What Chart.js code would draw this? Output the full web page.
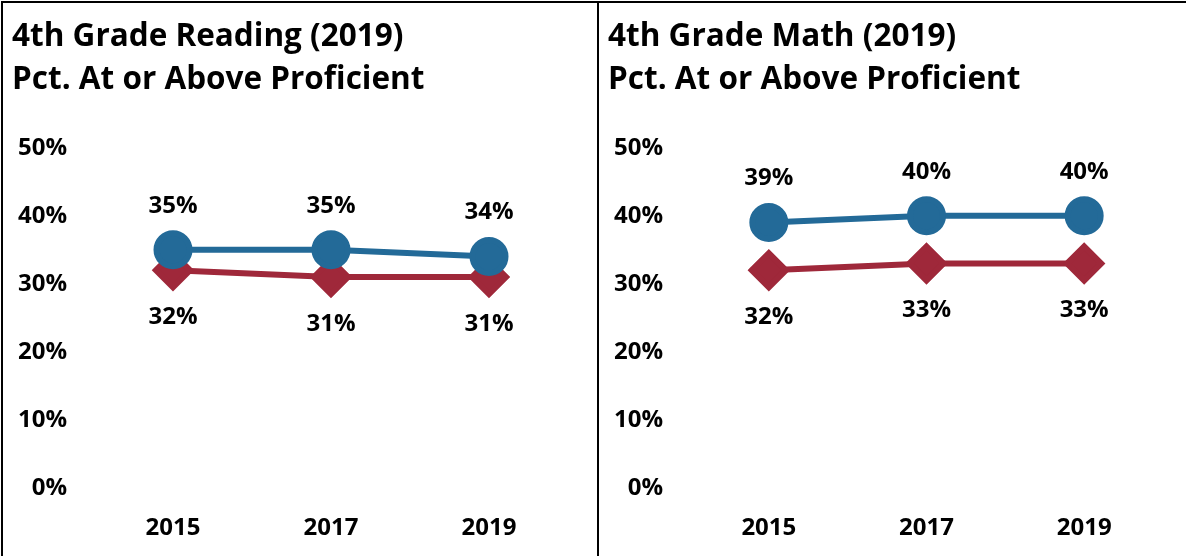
<!DOCTYPE html>
<html>
<head>
<meta charset="utf-8">
<script src="https://cdn.jsdelivr.net/npm/chart.js@4"></script>
<style>
  html, body { margin: 0; padding: 0; background: #fff; }
  body { width: 1186px; height: 556px; position: relative; overflow: hidden; }
  .panel { position: absolute; top: 1px; height: 555px; border-top: 2px solid #000; box-sizing: border-box; }
  #left { left: 1px; width: 598px; border-left: 2px solid #000; border-right: 2px solid #000; }
  #right { left: 599px; width: 587px; }
  canvas { position: absolute; left: 0; top: 0; }
</style>
</head>
<body>
<div class="panel" id="left"><canvas id="reading" width="594" height="553"></canvas></div>
<div class="panel" id="right"><canvas id="math" width="587" height="553"></canvas></div>
<script>
const years = ['2015', '2017', '2019'];
const readingTop = [35, 35, 34];
const readingBottom = [32, 31, 31];
const mathTop = [39, 40, 40];
const mathBottom = [32, 33, 33];
const yTicks = [0, 10, 20, 30, 40, 50];

const blue = '#236a98';
const red = '#9f283a';
const fontFamily = '"Open Sans", Lato, sans-serif';

// draws the % value above (blue) or below (red) each point
const pointLabels = {
  id: 'pointLabels',
  afterDatasetsDraw(chart) {
    const ctx = chart.ctx;
    ctx.save();
    ctx.font = 'bold 24px ' + fontFamily;
    ctx.fillStyle = '#000';
    ctx.textAlign = 'center';
    ctx.textBaseline = 'middle';
    chart.data.datasets.forEach((ds, i) => {
      const meta = chart.getDatasetMeta(i);
      meta.data.forEach((pt, j) => {
        ctx.fillText(ds.data[j] + '%', pt.x, pt.y + ds.labelOffset);
      });
    });
    ctx.restore();
  }
};

function makeChart(id, title, top, bottom, rightPad) {
  return new Chart(document.getElementById(id), {
    type: 'line',
    data: {
      labels: years,
      datasets: [
        {
          data: top,
          borderColor: blue,
          backgroundColor: blue,
          borderWidth: 6,
          pointStyle: 'circle',
          pointRadius: 16.5,
          pointHoverRadius: 16.5,
          labelOffset: -44
        },
        {
          data: bottom,
          borderColor: red,
          backgroundColor: red,
          borderWidth: 6,
          pointStyle: 'rectRot',
          pointRadius: 17,
          pointHoverRadius: 17,
          labelOffset: 47
        }
      ]
    },
    options: {
      responsive: false,
      animation: false,
      layout: { padding: { left: 9, right: rightPad, top: 0, bottom: 0 } },
      plugins: {
        legend: { display: false },
        tooltip: { enabled: false },
        title: {
          display: true,
          text: title,
          align: 'start',
          color: '#000',
          font: { family: fontFamily, size: 31.5, weight: 'bold', lineHeight: 1.36 },
          padding: { top: 13, bottom: 46 }
        }
      },
      scales: {
        x: {
          offset: true,
          grid: { display: false, drawTicks: false },
          border: { display: false },
          ticks: { color: '#000', padding: 26, font: { family: fontFamily, size: 24, weight: 'bold' } },
          afterFit: (scale) => { scale.height = 68; }
        },
        y: {
          min: yTicks[0],
          max: yTicks[yTicks.length - 1],
          grid: { display: false, drawTicks: false },
          border: { display: false },
          ticks: {
            stepSize: 10,
            color: '#000',
            padding: 27,
            font: { family: fontFamily, size: 24, weight: 'bold' },
            callback: (v) => v + '%'
          },
          afterFit: (scale) => { scale.width = 82; }
        }
      }
    },
    plugins: [pointLabels]
  });
}

makeChart('reading', ['4th Grade Reading (2019)', 'Pct. At or Above Proficient'], readingTop, readingBottom, 594 - 565);
makeChart('math', ['4th Grade Math (2019)', 'Pct. At or Above Proficient'], mathTop, mathBottom, 587 - 565);
</script>
</body>
</html>
